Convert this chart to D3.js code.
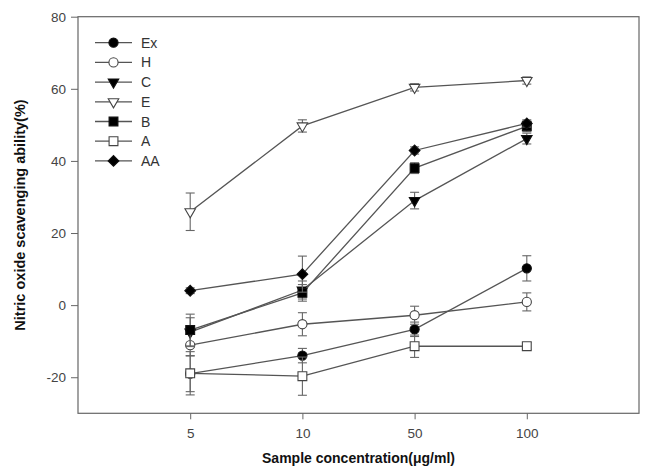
<!DOCTYPE html>
<html><head><meta charset="utf-8">
<script src="https://cdn.jsdelivr.net/npm/d3@7"></script>
<style>body{margin:0;background:#fff}svg{display:block}</style>
</head><body>
<svg id="c" width="649" height="467"></svg>
<script>
const concentrations = ["5", "10", "50", "100"];
const seriesNames = ["Ex", "H", "C", "E", "B", "A", "AA"];
const exValues = [-19, -14, -6.7, 10.2];
const exErr = [5, 2, 2, 3.5];
const hValues = [-11.1, -5.3, -2.8, 0.9];
const hErr = [3, 3.2, 2.5, 2.5];
const cValues = [-7.5, 4.2, 29, 46.2];
const cErr = [4, 2.5, 2.3, 1.5];
const eValues = [25.9, 49.7, 60.4, 62.3];
const eErr = [5.2, 1.7, 1, 1];
const bValues = [-6.9, 3.4, 38, 49.6];
const bErr = [4.4, 2.3, 1.5, 1.5];
const aValues = [-18.9, -19.7, -11.4, -11.4];
const aErr = [6, 5.3, 3.1, 1];
const aaValues = [4.0, 8.6, 42.9, 50.4];
const aaErr = [0.8, 5, 1, 1];
const yTicks = [-20, 0, 20, 40, 60, 80];

const markers = {
  Ex: {shape: "circle", fill: "#000"},
  H: {shape: "circle", fill: "#fff"},
  C: {shape: "tri", fill: "#000"},
  E: {shape: "tri", fill: "#fff"},
  B: {shape: "square", fill: "#000"},
  A: {shape: "square", fill: "#fff"},
  AA: {shape: "diamond", fill: "#000"}
};
const seriesData = [exValues, hValues, cValues, eValues, bValues, aValues, aaValues];
const seriesErr = [exErr, hErr, cErr, eErr, bErr, aErr, aaErr];

const svg = d3.select("#c");
const L = 78, R = 639, T = 16.7, B = 413.3;
const x = d3.scaleLinear().domain([-1, 4]).range([L, R]);
const y = d3.scaleLinear().domain([-30, 80]).range([B, T]);

const lineColor = "#555";
const font = "Liberation Sans, Arial, sans-serif";

function symbolPath(shape) {
  if (shape === "circle") return d3.symbol(d3.symbolCircle, 66)();
  if (shape === "square") return d3.symbol(d3.symbolSquare, 78)();
  if (shape === "tri") return d3.symbol(d3.symbolTriangle, 48)();
  if (shape === "diamond") return d3.symbol(d3.symbolSquare, 58)();
}
function symbolRot(shape) {
  if (shape === "tri") return 180;
  if (shape === "diamond") return 45;
  return 0;
}
function drawMarker(g, shape, fill, cx, cy) {
  g.append("path")
    .attr("d", symbolPath(shape))
    .attr("transform", `translate(${cx},${cy}) rotate(${symbolRot(shape)})`)
    .attr("fill", fill)
    .attr("stroke", fill === "#000" ? "#111" : "#444")
    .attr("stroke-width", 1.1);
}

// frame
svg.append("rect").attr("x", L).attr("y", T).attr("width", R - L).attr("height", B - T)
  .attr("fill", "none").attr("stroke", "#666").attr("stroke-width", 1.2);

// y axis
const yAxis = d3.axisLeft(y).tickValues(yTicks).tickFormat(d => String(d)).tickSize(7).tickPadding(5);
const gy = svg.append("g").attr("transform", `translate(${L},0)`).call(yAxis);
gy.select(".domain").remove();
gy.selectAll("line").attr("stroke", "#666");
gy.selectAll("text").attr("font-family", font).attr("font-size", 13.5).attr("fill", "#444");

// x axis
const xAxis = d3.axisBottom(x).tickValues(d3.range(concentrations.length))
  .tickFormat(i => concentrations[i]).tickSize(6).tickPadding(9);
const gx = svg.append("g").attr("transform", `translate(0,${B})`).call(xAxis);
gx.select(".domain").remove();
gx.selectAll("line").attr("stroke", "#666");
gx.selectAll("text").attr("font-family", font).attr("font-size", 13.5).attr("fill", "#444");

// axis titles
svg.append("text").attr("x", (L + R) / 2).attr("y", 463)
  .attr("text-anchor", "middle").attr("font-family", font).attr("font-weight", "bold")
  .attr("font-size", 14).attr("fill", "#111").text("Sample concentration(μg/ml)");
svg.append("text").attr("transform", `translate(25,${(T + B) / 2}) rotate(-90)`)
  .attr("text-anchor", "middle").attr("font-family", font).attr("font-weight", "bold")
  .attr("font-size", 14.5).attr("fill", "#111").text("Nitric oxide scavenging ability(%)");

// series
const line = d3.line().x((d, i) => x(i)).y(d => y(d));
seriesNames.forEach((name, si) => {
  const g = svg.append("g");
  const vals = seriesData[si], errs = seriesErr[si];
  g.append("path").attr("d", line(vals)).attr("fill", "none")
    .attr("stroke", lineColor).attr("stroke-width", 1.3);
  vals.forEach((v, i) => {
    const cx = x(i), y1 = y(v + errs[i]), y2 = y(v - errs[i]);
    g.append("line").attr("x1", cx).attr("x2", cx).attr("y1", y1).attr("y2", y2)
      .attr("stroke", "#666").attr("stroke-width", 1.1);
    [y1, y2].forEach(yy => g.append("line").attr("x1", cx - 4.5).attr("x2", cx + 4.5)
      .attr("y1", yy).attr("y2", yy).attr("stroke", "#666").attr("stroke-width", 1.1));
  });
  vals.forEach((v, i) => drawMarker(g, markers[name].shape, markers[name].fill, x(i), y(v)));
});

// legend
const legY0 = 42.7, legDy = 19.7;
seriesNames.forEach((name, i) => {
  const ly = legY0 + i * legDy;
  const g = svg.append("g");
  g.append("line").attr("x1", 95).attr("x2", 132).attr("y1", ly).attr("y2", ly)
    .attr("stroke", lineColor).attr("stroke-width", 1.3);
  drawMarker(g, markers[name].shape, markers[name].fill, 113.5, ly);
  g.append("text").attr("x", 141).attr("y", ly + 5).attr("font-family", font)
    .attr("font-size", 14).attr("fill", "#333").text(name);
});
</script>
</body></html>
